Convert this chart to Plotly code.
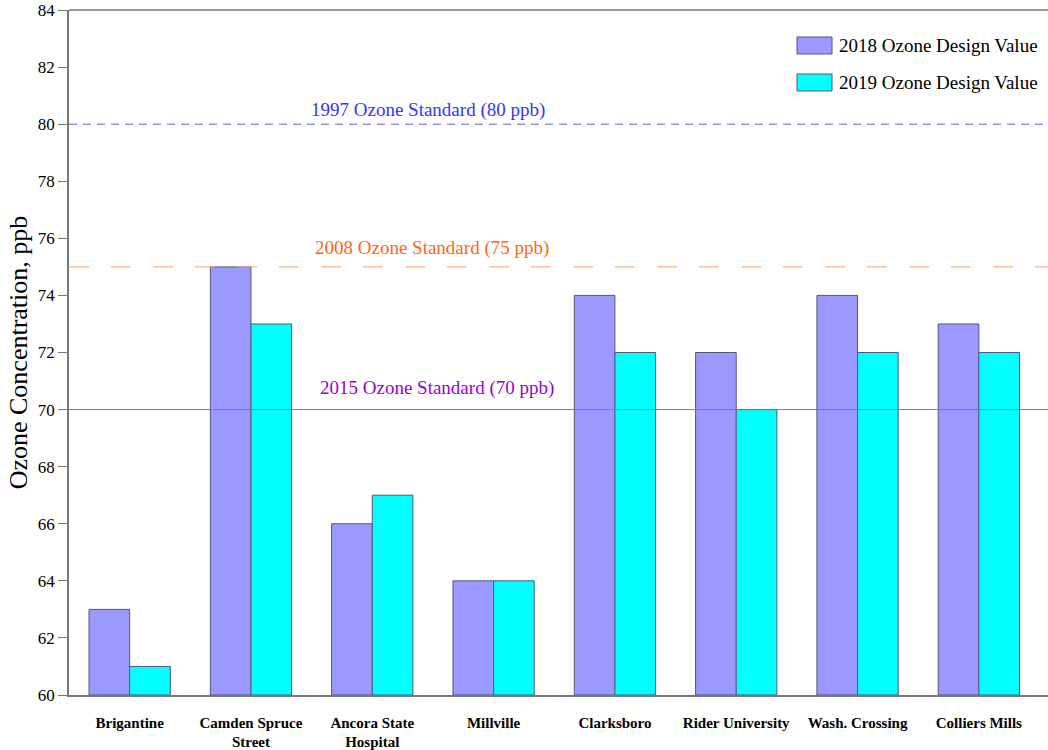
import plotly.graph_objects as go

sites = ["Brigantine", "Camden Spruce<br>Street", "Ancora State<br>Hospital", "Millville",
         "Clarksboro", "Rider University", "Wash. Crossing", "Colliers Mills"]
dv2018 = [63, 75, 66, 64, 74, 72, 74, 73]
dv2019 = [61, 73, 67, 64, 72, 70, 72, 72]
series_names = ["2018 Ozone Design Value", "2019 Ozone Design Value"]
series_colors = ["#9999FF", "#00FFFF"]
standards = [80, 75, 70]
standard_labels = ["1997 Ozone Standard (80 ppb)", "2008 Ozone Standard (75 ppb)", "2015 Ozone Standard (70 ppb)"]
yticks = list(range(60, 85, 2))

FONT = "Liberation Serif"
xpos = list(range(len(sites)))
OUTLINE = "#55557A"

fig = go.Figure()
for vals, name, col in zip([dv2018, dv2019], series_names, series_colors):
    fig.add_trace(go.Bar(x=xpos, y=[v - 60 for v in vals], base=60, name=name,
                         marker=dict(color=col, line=dict(color=OUTLINE, width=1)),
                         showlegend=False))

line_styles = [("#5555FF", "8px,6px"), ("#FFA070", "20px,22px"), ("#BB44FF", "solid")]
text_colors = ["#3333FF", "#FF6611", "#9900CC"]
text_x = [0.367, 0.371, 0.376]
text_dy = [0.5, 0.66, 0.76]
for val, lab, (lc, dash), tc, tx, dy in zip(standards, standard_labels, line_styles, text_colors, text_x, text_dy):
    fig.add_shape(type="line", xref="paper", x0=0, x1=1, yref="y", y0=val, y1=val,
                  line=dict(color=lc, width=1, dash=dash))
    fig.add_annotation(xref="paper", x=tx, yref="y", y=val + dy, text=lab, showarrow=False,
                       font=dict(family=FONT, size=19, color=tc), xanchor="center", yanchor="middle")

# legend (drawn as swatches + labels)
sw_y = [(0.9606, 0.9358), (0.9066, 0.8818)]
txt_y = [0.9482, 0.8942]
for (y0, y1), ty, name, col in zip(sw_y, txt_y, series_names, series_colors):
    fig.add_shape(type="rect", xref="paper", yref="paper", x0=0.7436, x1=0.7794, y0=y1, y1=y0,
                  fillcolor=col, line=dict(color=OUTLINE, width=1))
    fig.add_annotation(xref="paper", yref="paper", x=0.7845, y=ty, text=name, showarrow=False,
                       xanchor="left", yanchor="middle", font=dict(family=FONT, size=19, color="black"))

fig.update_layout(
    width=1048, height=750,
    margin=dict(l=69, r=0, t=10, b=55, pad=0, autoexpand=False),
    plot_bgcolor="white", paper_bgcolor="white",
    barmode="group", bargap=0.33, bargroupgap=0,
    font=dict(family=FONT, color="black"),
    showlegend=False,
    xaxis=dict(range=[-0.5, 7.57], tickmode="array", tickvals=xpos, ticktext=sites,
               tickfont=dict(family=FONT, size=15, color="black", weight="bold"), showgrid=False,
               showline=True, linecolor="#777777", linewidth=1.5, ticks="", ticklabelstandoff=13,
               zeroline=False, automargin=False),
    yaxis=dict(range=[60, 84], tickmode="array", tickvals=yticks, showgrid=False, zeroline=False,
               showline=True, linecolor="#777777", linewidth=1.5, ticks="outside", ticklen=9,
               tickcolor="#777777", tickfont=dict(family=FONT, size=17, color="black"),
               automargin=False, ticklabeloverflow="allow",
               title=dict(text="Ozone Concentration, ppb", font=dict(family=FONT, size=26), standoff=3)),
)
fig.add_shape(type="line", xref="paper", x0=0, x1=1, yref="paper", y0=1, y1=1,
              line=dict(color="#777777", width=1.5))

fig.write_html("out.html", config={"displayModeBar": False},
               post_script="document.body.style.margin='0';document.body.style.overflow='hidden';")
